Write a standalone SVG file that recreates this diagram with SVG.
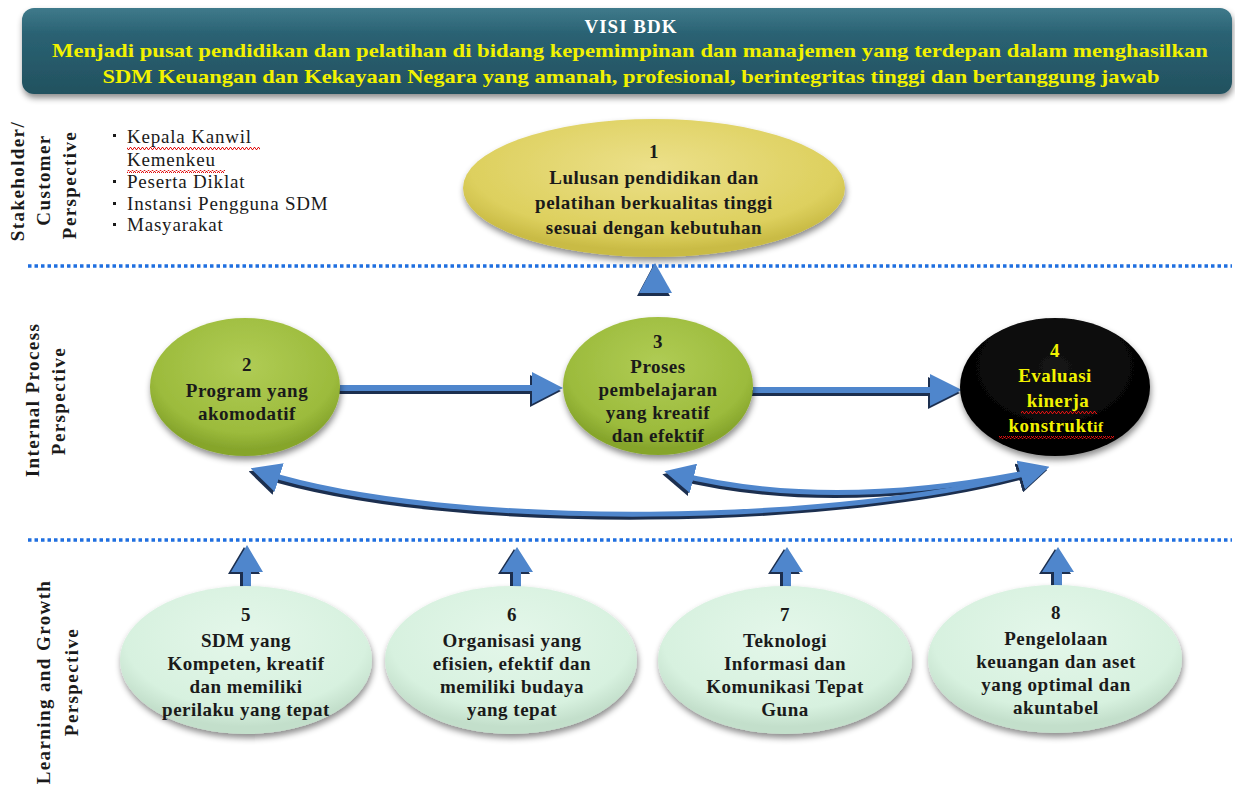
<svg xmlns="http://www.w3.org/2000/svg" width="1235" height="787" viewBox="0 0 1235 787">
<style>
.sf{font-family:"Liberation Serif","DejaVu Serif",serif;}
.b{font-weight:bold;}
.c{text-anchor:middle;}
.blk{fill:#1a1a1a;}
.yel{fill:#f2f200;}
.lab{font-family:"Liberation Serif","DejaVu Serif",serif;font-weight:bold;font-size:19px;letter-spacing:1.4px;fill:#1a1a1a;text-anchor:middle;}
.dot{stroke:#1f6fe0;stroke-width:3.5;stroke-dasharray:3.5 3;fill:none;}
.arr{fill:#4f86cc;}
.arrS{fill:#1c2f4f;}
.cur{fill:none;stroke:#4f86cc;stroke-width:5;}
.curS{fill:none;stroke:#1c2f4f;stroke-width:5;}
.nt{font-family:"Liberation Serif","DejaVu Serif",serif;font-weight:bold;font-size:19px;letter-spacing:0.5px;text-anchor:middle;fill:#1a1a1a;}
</style>
<defs>
<linearGradient id="gHead" x1="0" y1="0" x2="0" y2="1">
<stop offset="0" stop-color="#3f7a8b"/><stop offset="0.3" stop-color="#2a6273"/><stop offset="1" stop-color="#22515f"/>
</linearGradient>
<radialGradient id="gYel" cx="0.5" cy="0.35" r="0.6">
<stop offset="0" stop-color="#ece08a"/><stop offset="0.8" stop-color="#ddd05e"/><stop offset="1" stop-color="#c9bb45"/>
</radialGradient>
<radialGradient id="gGrn" cx="0.5" cy="0.35" r="0.6">
<stop offset="0" stop-color="#b0cc55"/><stop offset="0.8" stop-color="#9cbb3c"/><stop offset="1" stop-color="#86a52c"/>
</radialGradient>
<radialGradient id="gBlk" cx="0.5" cy="0.35" r="0.6">
<stop offset="0" stop-color="#141414"/><stop offset="1" stop-color="#000"/>
</radialGradient>
<radialGradient id="gMint" cx="0.5" cy="0.35" r="0.6">
<stop offset="0" stop-color="#e4f7ea"/><stop offset="0.8" stop-color="#d7f1df"/><stop offset="1" stop-color="#c3dfcb"/>
</radialGradient>
<filter id="sh" x="-20%" y="-20%" width="140%" height="150%">
<feDropShadow dx="1" dy="4" stdDeviation="3" flood-color="#000" flood-opacity="0.45"/>
</filter>
<pattern id="wavy" width="4" height="3" patternUnits="userSpaceOnUse">
<path d="M0 2.5 L1 2.5 L2 0.5 L3 0.5 L4 2.5" stroke="#e01010" stroke-width="1" fill="none"/>
</pattern>
<marker id="mB" viewBox="0 0 10 10" refX="6" refY="5" markerWidth="30" markerHeight="30" markerUnits="userSpaceOnUse" orient="auto-start-reverse">
<path d="M0 0 L10 5 L0 10 Z" fill="#4f86cc"/>
</marker>
<marker id="mS" viewBox="0 0 10 10" refX="6" refY="5" markerWidth="30" markerHeight="30" markerUnits="userSpaceOnUse" orient="auto-start-reverse">
<path d="M0 0 L10 5 L0 10 Z" fill="#1c2f4f"/>
</marker>
</defs>

<rect width="1235" height="787" fill="#fff"/>

<!-- Header -->
<g id="visi">
<rect x="22" y="8" width="1210" height="86" rx="12" fill="url(#gHead)" filter="url(#sh)"/>
<text x="631" y="33" class="sf b c" font-size="19" letter-spacing="1" fill="#ffffff">VISI  BDK</text>
<text x="630" y="57" class="sf b c yel" font-size="19" textLength="1156" lengthAdjust="spacingAndGlyphs">Menjadi pusat pendidikan dan pelatihan di bidang kepemimpinan dan manajemen yang terdepan dalam menghasilkan</text>
<text x="631" y="83" class="sf b c yel" font-size="19" textLength="1057" lengthAdjust="spacingAndGlyphs">SDM Keuangan dan Kekayaan Negara yang amanah, profesional, berintegritas tinggi dan bertanggung jawab</text>
</g>

<!-- Separators -->
<line x1="28" y1="266" x2="1232" y2="266" class="dot"/>
<line x1="28" y1="540" x2="1232" y2="540" class="dot"/>

<!-- Perspective labels -->
<g id="label-stakeholder">
<text transform="translate(24,181) rotate(-90)" class="lab">Stakeholder/</text>
<text transform="translate(50,180) rotate(-90)" class="lab">Customer</text>
<text transform="translate(76,185) rotate(-90)" class="lab">Perspective</text>
</g>
<g id="label-internal">
<text transform="translate(39,400) rotate(-90)" class="lab">Internal Process</text>
<text transform="translate(65,401) rotate(-90)" class="lab">Perspective</text>
</g>
<g id="label-learning">
<text transform="translate(50,682) rotate(-90)" class="lab">Learning and Growth</text>
<text transform="translate(78,682) rotate(-90)" class="lab">Perspective</text>
</g>

<!-- Stakeholder list -->
<g id="stakeholders" class="sf blk" font-size="19" letter-spacing="0.8">
<rect x="113" y="134" width="3" height="3"/>
<text x="127" y="143">Kepala Kanwil</text>
<text x="127" y="166">Kemenkeu</text>
<rect x="113" y="180" width="3" height="3"/>
<text x="127" y="188">Peserta Diklat</text>
<rect x="113" y="202" width="3" height="3"/>
<text x="127" y="210">Instansi Pengguna SDM</text>
<rect x="113" y="223" width="3" height="3"/>
<text x="127" y="231">Masyarakat</text>
<rect x="127" y="147" width="133" height="3" fill="url(#wavy)"/>
<rect x="127" y="170" width="98" height="3" fill="url(#wavy)"/>
</g>

<!-- Connectors -->
<g id="connectors">
<g transform="translate(-2,3)">
<polygon class="arrS" points="639,293 655,263 672,293"/>
<polygon class="arrS" points="340,385 532,385 532,372 563,388 532,404 532,391 340,391"/>
<polygon class="arrS" points="753,387 930,387 930,374 962,390 930,406 930,393 753,393"/>
<path class="curS" d="M1038 470 C850 525 450 532 262 472" marker-start="url(#mS)" marker-end="url(#mS)"/>
<path class="curS" d="M1030 472 Q 830 512 676 474" marker-end="url(#mS)"/>
</g>
<polygon class="arr" points="639,293 655,263 672,293"/>
<polygon class="arr" points="340,385 532,385 532,372 563,388 532,404 532,391 340,391"/>
<polygon class="arr" points="753,387 930,387 930,374 962,390 930,406 930,393 753,393"/>
<path class="cur" d="M1038 470 C850 525 450 532 262 472" marker-start="url(#mB)" marker-end="url(#mB)"/>
<path class="cur" d="M1030 472 Q 830 512 676 474" marker-end="url(#mB)"/>
<g transform="translate(-3,2)">
<polygon class="arrS" points="243,592 243,572 231,572 247,545 263,572 251,572 251,592"/>
<polygon class="arrS" points="513,592 513,572 501,572 517,547 533,572 521,572 521,592"/>
<polygon class="arrS" points="783,592 783,572 771,572 787,547 803,572 791,572 791,592"/>
<polygon class="arrS" points="1054,592 1054,572 1042,572 1058,547 1074,572 1062,572 1062,592"/>
</g>
<polygon class="arr" points="243,592 243,572 231,572 247,545 263,572 251,572 251,592"/>
<polygon class="arr" points="513,592 513,572 501,572 517,547 533,572 521,572 521,592"/>
<polygon class="arr" points="783,592 783,572 771,572 787,547 803,572 791,572 791,592"/>
<polygon class="arr" points="1054,592 1054,572 1042,572 1058,547 1074,572 1062,572 1062,592"/>
</g>

<!-- Node 1 -->
<g id="node1">
<ellipse cx="654" cy="188" rx="191" ry="69" fill="url(#gYel)" filter="url(#sh)"/>
<g class="nt" font-size="21" letter-spacing="0.6">
<text x="654" y="158">1</text>
<text x="654" y="184">Lulusan pendidikan dan</text>
<text x="654" y="209">pelatihan berkualitas tinggi</text>
<text x="654" y="234">sesuai dengan kebutuhan</text>
</g>
</g>

<!-- Node 2 -->
<g id="node2">
<ellipse cx="245" cy="387" rx="95" ry="69" fill="url(#gGrn)" filter="url(#sh)"/>
<g class="nt">
<text x="247" y="371">2</text>
<text x="247" y="397">Program yang</text>
<text x="247" y="420">akomodatif</text>
</g>
</g>

<!-- Node 3 -->
<g id="node3">
<ellipse cx="658" cy="386" rx="95" ry="69" fill="url(#gGrn)" filter="url(#sh)"/>
<g class="nt">
<text x="658" y="348">3</text>
<text x="658" y="373">Proses</text>
<text x="658" y="396">pembelajaran</text>
<text x="658" y="419">yang kreatif</text>
<text x="658" y="442">dan efektif</text>
</g>
</g>

<!-- Node 4 -->
<g id="node4">
<ellipse cx="1055" cy="387" rx="95" ry="69" fill="url(#gBlk)" filter="url(#sh)"/>
<g class="nt" font-size="21" letter-spacing="0.6" style="fill:#f2f200">
<text x="1055" y="357">4</text>
<text x="1055" y="382">Evaluasi</text>
<text x="1058" y="407">kinerja</text>
<text x="1056" y="432">konstrukt<tspan font-size="15">if</tspan></text>
</g>
<rect x="1021" y="411" width="76" height="3" fill="url(#wavy)"/>
<rect x="999" y="436" width="115" height="3" fill="url(#wavy)"/>
</g>

<!-- Node 5 -->
<g id="node5">
<ellipse cx="246" cy="660" rx="126" ry="74" fill="url(#gMint)" filter="url(#sh)"/>
<g class="nt">
<text x="246" y="621">5</text>
<text x="246" y="647">SDM yang</text>
<text x="246" y="670">Kompeten, kreatif</text>
<text x="246" y="693">dan memiliki</text>
<text x="246" y="716">perilaku yang tepat</text>
</g>
</g>

<!-- Node 6 -->
<g id="node6">
<ellipse cx="511" cy="660" rx="126" ry="74" fill="url(#gMint)" filter="url(#sh)"/>
<g class="nt">
<text x="512" y="621">6</text>
<text x="512" y="647">Organisasi yang</text>
<text x="512" y="670">efisien, efektif  dan</text>
<text x="512" y="693">memiliki budaya</text>
<text x="512" y="716">yang tepat</text>
</g>
</g>

<!-- Node 7 -->
<g id="node7">
<ellipse cx="785" cy="660" rx="127" ry="74" fill="url(#gMint)" filter="url(#sh)"/>
<g class="nt">
<text x="785" y="621">7</text>
<text x="785" y="647">Teknologi</text>
<text x="785" y="670">Informasi dan</text>
<text x="785" y="693">Komunikasi Tepat</text>
<text x="785" y="716">Guna</text>
</g>
</g>

<!-- Node 8 -->
<g id="node8">
<ellipse cx="1055" cy="659" rx="127" ry="74" fill="url(#gMint)" filter="url(#sh)"/>
<g class="nt">
<text x="1056" y="619">8</text>
<text x="1056" y="645">Pengelolaan</text>
<text x="1056" y="668">keuangan dan aset</text>
<text x="1056" y="691">yang  optimal dan</text>
<text x="1056" y="714">akuntabel</text>
</g>
</g>
</svg>
